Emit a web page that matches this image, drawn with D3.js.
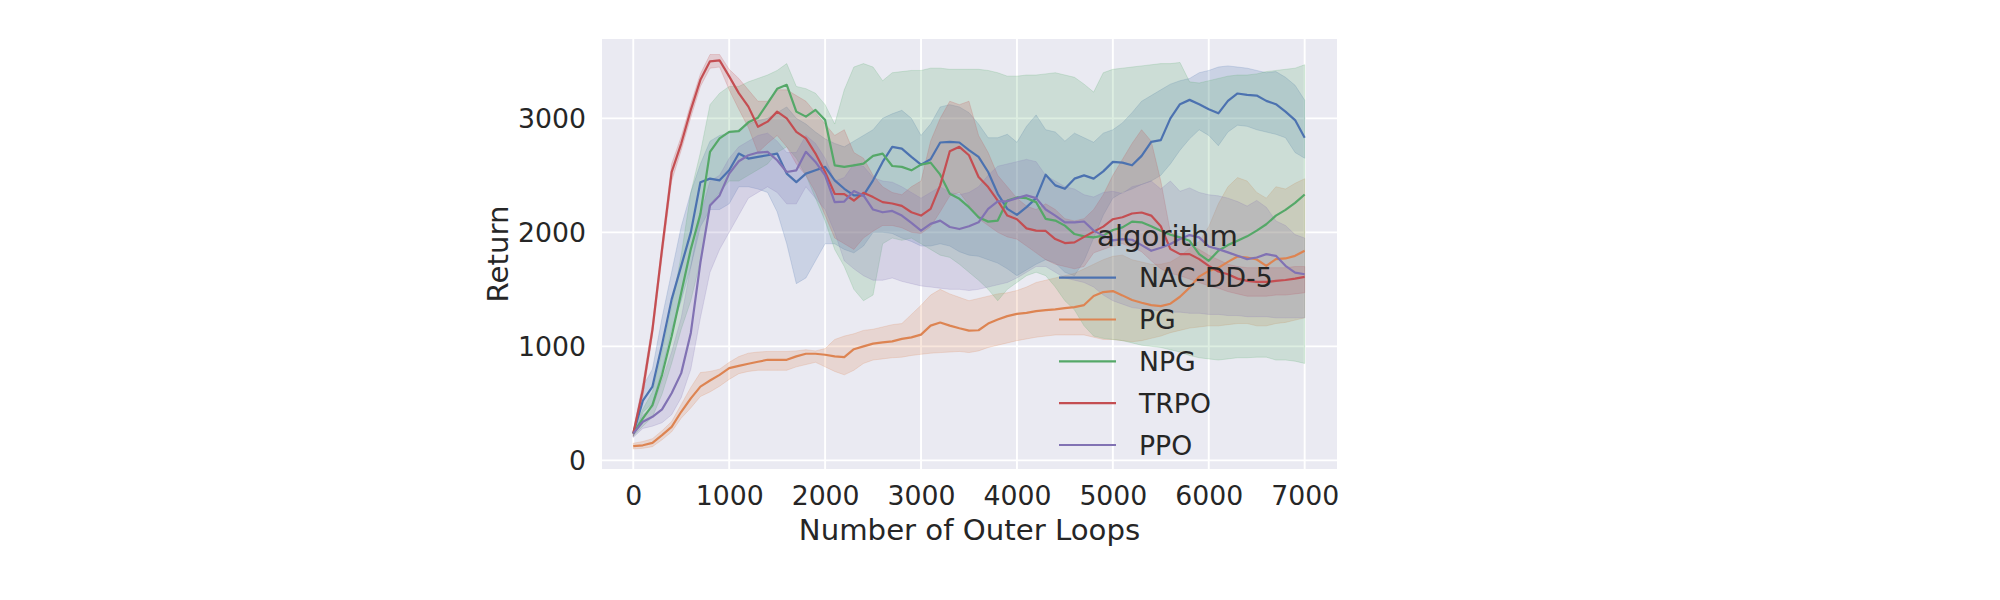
<!DOCTYPE html>
<html>
<head>
<meta charset="utf-8">
<script src="https://cdn.jsdelivr.net/npm/d3@7"></script>
<style>
  body { margin: 0; background: #fff; }
  svg { display: block; font-family: "DejaVu Sans", sans-serif; }
</style>
</head>
<body>
<svg></svg>
<script>
const algorithms = ["NAC-DD-5", "PG", "NPG", "TRPO", "PPO"];
const colors = ["#4c72b0", "#dd8452", "#55a868", "#c44e52", "#8172b3"];
const xTicks = [0, 1000, 2000, 3000, 4000, 5000, 6000, 7000];
const yTicks = [0, 1000, 2000, 3000];

// outer loop index of each sample (every 100 loops)
const steps = d3.range(0, 7001, 100);

const nacMean = [235, 524, 647, 1015, 1412, 1706, 2000, 2440, 2471, 2456, 2544, 2691, 2647, 2662, 2676, 2691, 2515, 2441, 2515, 2544, 2574, 2456, 2382, 2324, 2324, 2456, 2618, 2750, 2735, 2662, 2594, 2641, 2788, 2794, 2788, 2721, 2662, 2529, 2338, 2206, 2153, 2221, 2300, 2506, 2412, 2382, 2471, 2500, 2471, 2535, 2618, 2612, 2588, 2671, 2794, 2809, 3000, 3124, 3162, 3124, 3079, 3044, 3153, 3218, 3206, 3200, 3153, 3124, 3059, 2985, 2829];
const nacLo = [210, 420, 500, 800, 1150, 1400, 1700, 2050, 2200, 2200, 2250, 2400, 2400, 2380, 2350, 2180, 1900, 1550, 1600, 1750, 1900, 1900, 1850, 1820, 1880, 2000, 2000, 1990, 1950, 1920, 1880, 1880, 1900, 1880, 1830, 1800, 1790, 1760, 1730, 1680, 1620, 1670, 1720, 1760, 1730, 1650, 1620, 1750, 1950, 2150, 2300, 2350, 2380, 2420, 2450, 2500, 2600, 2720, 2820, 2900, 2850, 2760, 2880, 2940, 2930, 2900, 2880, 2860, 2830, 2700, 2650];
const nacHi = [260, 650, 800, 1250, 1650, 2050, 2350, 2600, 2800, 2850, 2870, 2900, 2950, 2980, 3000, 3050, 3100, 3000, 2950, 2880, 2820, 2780, 2750, 2800, 2850, 2900, 3000, 3040, 3070, 3000, 2850, 2950, 3100, 3120, 3100, 3050, 2950, 2830, 2830, 2860, 2790, 2930, 3030, 2900, 2880, 2800, 2870, 2830, 2790, 2870, 2900, 2960, 3050, 3150, 3200, 3250, 3300, 3330, 3350, 3400, 3420, 3450, 3460, 3450, 3440, 3420, 3400, 3410, 3360, 3290, 3160];

const pgMean = [124, 132, 153, 221, 294, 426, 544, 647, 700, 750, 809, 829, 847, 865, 882, 882, 882, 912, 935, 935, 926, 912, 906, 975, 1000, 1024, 1035, 1044, 1065, 1079, 1103, 1182, 1209, 1182, 1159, 1138, 1141, 1200, 1235, 1265, 1285, 1294, 1309, 1318, 1324, 1335, 1344, 1362, 1441, 1476, 1485, 1447, 1406, 1382, 1362, 1353, 1374, 1435, 1515, 1612, 1662, 1688, 1741, 1788, 1779, 1762, 1706, 1765, 1771, 1794, 1838];
const pgLo = [100, 105, 120, 180, 250, 370, 460, 560, 600, 650, 710, 760, 780, 790, 790, 790, 790, 820, 840, 860, 820, 780, 750, 790, 850, 880, 890, 900, 905, 920, 930, 940, 945, 950, 955, 945, 960, 990, 1010, 1030, 1050, 1065, 1080, 1090, 1100, 1100, 1100, 1100, 1080, 1060, 1060, 1050, 1040, 1050, 1070, 1090, 1120, 1140, 1160, 1170, 1180, 1180, 1190, 1200, 1200, 1180, 1180, 1200, 1210, 1230, 1250];
const pgHi = [150, 165, 190, 260, 340, 490, 640, 770, 780, 800, 860, 910, 940, 950, 955, 955, 955, 960, 970, 960, 980, 1060, 1090, 1110, 1140, 1150, 1170, 1190, 1200, 1280, 1360, 1450, 1500, 1460, 1430, 1400, 1420, 1440, 1460, 1470, 1490, 1520, 1560, 1580, 1600, 1620, 1640, 1680, 1720, 1760, 1790, 1800, 1760, 1740, 1720, 1720, 1740, 1790, 1860, 1920, 2050, 2250, 2400, 2480, 2450, 2350, 2300, 2400, 2380, 2430, 2470];

const npgMean = [235, 368, 485, 750, 1088, 1471, 1853, 2162, 2706, 2824, 2882, 2888, 2965, 3006, 3132, 3259, 3294, 3059, 3015, 3074, 2985, 2588, 2574, 2588, 2603, 2671, 2691, 2582, 2574, 2544, 2594, 2612, 2506, 2338, 2294, 2221, 2132, 2094, 2103, 2279, 2306, 2300, 2265, 2118, 2103, 2059, 1985, 1965, 1956, 1971, 2021, 2044, 2094, 2088, 2053, 2015, 1979, 1956, 1926, 1809, 1750, 1838, 1888, 1926, 1965, 2015, 2071, 2147, 2197, 2259, 2332];
const npgLo = [210, 300, 380, 580, 850, 1150, 1400, 1750, 2250, 2350, 2450, 2450, 2500, 2550, 2600, 2700, 2750, 2650, 2500, 2300, 2100, 1850, 1700, 1500, 1400, 1450, 1900, 1950, 1930, 1950, 1900, 1850, 1800, 1780, 1720, 1650, 1580, 1500, 1400, 1500, 1560, 1620, 1650, 1620, 1520, 1400, 1320, 1180, 1090, 1070, 1060, 1050, 1030, 1010, 1000, 990, 970, 950, 920, 900, 890, 880, 890, 900, 900, 905, 905, 880, 880, 870, 850];
const npgHi = [260, 450, 600, 950, 1350, 1800, 2350, 2700, 3120, 3220, 3280, 3280, 3320, 3350, 3380, 3420, 3480, 3280, 3260, 3220, 3120, 2950, 3250, 3450, 3480, 3450, 3330, 3400, 3410, 3420, 3420, 3440, 3440, 3430, 3430, 3430, 3430, 3420, 3400, 3370, 3370, 3380, 3380, 3390, 3400, 3380, 3360, 3300, 3230, 3400, 3430, 3440, 3450, 3460, 3470, 3480, 3480, 3490, 3320, 3310, 3330, 3350, 3370, 3380, 3380, 3390, 3410, 3420, 3430, 3440, 3470];

const trpoMean = [235, 618, 1147, 1853, 2529, 2779, 3074, 3338, 3500, 3509, 3368, 3221, 3103, 2926, 2971, 3059, 3000, 2882, 2824, 2691, 2529, 2338, 2335, 2279, 2347, 2309, 2265, 2253, 2232, 2176, 2147, 2206, 2412, 2712, 2750, 2676, 2485, 2397, 2279, 2147, 2115, 2035, 2015, 2012, 1941, 1906, 1912, 1960, 2006, 2050, 2115, 2132, 2165, 2174, 2147, 2053, 1853, 1809, 1809, 1765, 1706, 1656, 1632, 1594, 1574, 1565, 1565, 1574, 1582, 1594, 1609];
const trpoLo = [210, 560, 1090, 1780, 2450, 2720, 3010, 3280, 3440, 3450, 3250, 3080, 2920, 2700, 2780, 2850, 2750, 2600, 2500, 2350, 2150, 1950, 1900, 1850, 1950, 2010, 2060, 2060, 2040, 2000, 1990, 2050, 2180, 2320, 2350, 2240, 2120, 2060, 2000, 1960, 1940, 1880, 1820, 1760, 1720, 1700, 1680, 1700, 1820, 1850, 1880, 1900, 1870, 1830, 1750, 1680, 1640, 1620, 1590, 1560, 1530, 1510, 1480, 1460, 1440, 1440, 1440, 1450, 1450, 1460, 1470];
const trpoHi = [260, 680, 1200, 1900, 2600, 2840, 3130, 3390, 3560, 3560, 3430, 3350, 3250, 3150, 3150, 3250, 3250, 3200, 3150, 3050, 2950, 2850, 2900, 2700, 2650, 2500, 2400, 2350, 2330, 2400, 2450, 2800, 3000, 3150, 3120, 3150, 2850, 2700, 2500, 2400, 2300, 2230, 2200, 2250, 2200, 2120, 2100, 2120, 2200, 2330, 2500, 2640, 2780, 2900, 2800, 2450, 2000, 1950, 1900, 1850, 1800, 1760, 1720, 1700, 1690, 1690, 1690, 1690, 1690, 1700, 1700];

const ppoMean = [235, 338, 382, 447, 588, 765, 1118, 1735, 2235, 2324, 2515, 2624, 2676, 2700, 2706, 2632, 2529, 2544, 2706, 2618, 2500, 2265, 2270, 2362, 2324, 2200, 2176, 2188, 2147, 2082, 2015, 2074, 2103, 2047, 2029, 2053, 2088, 2206, 2271, 2274, 2300, 2324, 2300, 2200, 2147, 2088, 2088, 2095, 2015, 1971, 1929, 1941, 1935, 1888, 1838, 1865, 1897, 1941, 1976, 1956, 1876, 1853, 1824, 1794, 1765, 1779, 1809, 1794, 1706, 1647, 1632];
const ppoLo = [200, 280, 300, 330, 400, 550, 800, 1250, 1650, 1850, 2000, 2150, 2300, 2350, 2400, 2350, 2250, 2250, 2400, 2300, 2200, 2000, 1750, 1680, 1620, 1580, 1580, 1600, 1570, 1550, 1530, 1520, 1510, 1500, 1500, 1490, 1500, 1520, 1540, 1560, 1600, 1650, 1700, 1700, 1650, 1600, 1580, 1560, 1520, 1450, 1400, 1370, 1340, 1330, 1320, 1310, 1300, 1300, 1290, 1290, 1280, 1280, 1270, 1270, 1260, 1260, 1260, 1250, 1250, 1250, 1250];
const ppoHi = [250, 400, 460, 700, 950, 1250, 1700, 2150, 2450, 2500, 2650, 2750, 2800, 2850, 2870, 2800, 2700, 2700, 2850, 2780, 2650, 2450, 2480, 2600, 2580, 2480, 2450, 2440, 2400, 2350, 2300, 2350, 2400, 2350, 2330, 2350, 2400, 2500, 2580, 2600, 2620, 2640, 2620, 2500, 2450, 2400, 2380, 2330, 2310, 2350, 2360, 2340, 2400, 2420, 2450, 2380, 2450, 2360, 2390, 2350, 2330, 2320, 2300, 2270, 2230, 2280, 2220, 2100, 2060, 1980, 1950];

const series = [
    { name: algorithms[0], mean: nacMean, lo: nacLo, hi: nacHi },
    { name: algorithms[1], mean: pgMean, lo: pgLo, hi: pgHi },
    { name: algorithms[2], mean: npgMean, lo: npgLo, hi: npgHi },
    { name: algorithms[3], mean: trpoMean, lo: trpoLo, hi: trpoHi },
    { name: algorithms[4], mean: ppoMean, lo: ppoLo, hi: ppoHi }
].map((s, i) => ({
    ...s,
    color: colors[i],
    points: steps.map((x, j) => ({ x: x, y: s.mean[j], lo: s.lo[j], hi: s.hi[j] }))
}));

const width = 2000;
const height = 600;
const plot = { left: 602, right: 1337, top: 39, bottom: 469 };
const textColor = "#262626";

const svg = d3.select("svg")
    .attr("width", width)
    .attr("height", height);

const x = d3.scaleLinear()
    .domain([-326, 7337])
    .range([plot.left, plot.right]);

const y = d3.scaleLinear()
    .domain([-76, 3696])
    .range([plot.bottom, plot.top]);

svg.append("rect")
    .attr("x", plot.left)
    .attr("y", plot.top)
    .attr("width", plot.right - plot.left)
    .attr("height", plot.bottom - plot.top)
    .attr("fill", "#eaeaf2");

// grid
svg.append("g")
    .selectAll("line")
    .data(xTicks)
    .enter().append("line")
    .attr("x1", d => x(d))
    .attr("x2", d => x(d))
    .attr("y1", plot.top)
    .attr("y2", plot.bottom)
    .attr("stroke", "#fff")
    .attr("stroke-width", 1.9);

svg.append("g")
    .selectAll("line")
    .data(yTicks)
    .enter().append("line")
    .attr("x1", plot.left)
    .attr("x2", plot.right)
    .attr("y1", d => y(d))
    .attr("y2", d => y(d))
    .attr("stroke", "#fff")
    .attr("stroke-width", 1.9);

const clip = svg.append("clipPath")
    .attr("id", "clip")
    .append("rect")
    .attr("x", plot.left)
    .attr("y", plot.top)
    .attr("width", plot.right - plot.left)
    .attr("height", plot.bottom - plot.top);

const area = d3.area()
    .x(d => x(d.x))
    .y0(d => y(d.lo))
    .y1(d => y(d.hi));

const line = d3.line()
    .x(d => x(d.x))
    .y(d => y(d.y));

const marks = svg.append("g").attr("clip-path", "url(#clip)");

// bands first, then lines (matplotlib zorder)
marks.selectAll("path.band")
    .data(series)
    .enter().append("path")
    .attr("class", "band")
    .attr("d", d => area(d.points))
    .attr("fill", d => d.color)
    .attr("fill-opacity", 0.2)
    .attr("stroke", d => d.color)
    .attr("stroke-opacity", 0.2)
    .attr("stroke-width", 1);

marks.selectAll("path.line")
    .data(series)
    .enter().append("path")
    .attr("class", "line")
    .attr("d", d => line(d.points))
    .attr("fill", "none")
    .attr("stroke", d => d.color)
    .attr("stroke-width", 2.2)
    .attr("stroke-linejoin", "round");

// axes (seaborn darkgrid: no spines, no tick marks)
const xAxis = svg.append("g")
    .attr("transform", `translate(0,${plot.bottom})`)
    .call(d3.axisBottom(x).tickValues(xTicks).tickFormat(d3.format("d")).tickSize(0).tickPadding(36));
xAxis.select(".domain").remove();
xAxis.selectAll("text")
    .attr("dy", 0)
    .attr("font-size", "26.7px")
    .attr("font-family", "DejaVu Sans")
    .attr("fill", textColor);

const yAxis = svg.append("g")
    .attr("transform", `translate(${plot.left},0)`)
    .call(d3.axisLeft(y).tickValues(yTicks).tickFormat(d3.format("d")).tickSize(0).tickPadding(16));
yAxis.select(".domain").remove();
yAxis.selectAll("text")
    .attr("dy", "0.36em")
    .attr("font-size", "26.7px")
    .attr("font-family", "DejaVu Sans")
    .attr("fill", textColor);

svg.append("text")
    .attr("x", (plot.left + plot.right) / 2)
    .attr("y", 540)
    .attr("text-anchor", "middle")
    .attr("font-size", "29.2px")
    .attr("fill", textColor)
    .text("Number of Outer Loops");

svg.append("text")
    .attr("transform", `translate(508,${(plot.top + plot.bottom) / 2}) rotate(-90)`)
    .attr("text-anchor", "middle")
    .attr("font-size", "29.2px")
    .attr("fill", textColor)
    .text("Return");

// legend (no frame)
const legend = svg.append("g");

legend.append("text")
    .attr("x", 1167.5)
    .attr("y", 246)
    .attr("text-anchor", "middle")
    .attr("font-size", "29.2px")
    .attr("fill", textColor)
    .text("algorithm");

const rowY = d3.scaleLinear().domain([0, 4]).range([277.7, 445]);

const item = legend.selectAll("g.item")
    .data(series)
    .enter().append("g")
    .attr("class", "item")
    .attr("transform", (d, i) => `translate(0,${rowY(i)})`);

item.append("line")
    .attr("x1", 1059)
    .attr("x2", 1116)
    .attr("stroke", d => d.color)
    .attr("stroke-width", 2.2);

item.append("text")
    .attr("x", 1139)
    .attr("y", 9.6)
    .attr("font-size", "26.7px")
    .attr("fill", textColor)
    .text(d => d.name);
</script>
</body>
</html>
